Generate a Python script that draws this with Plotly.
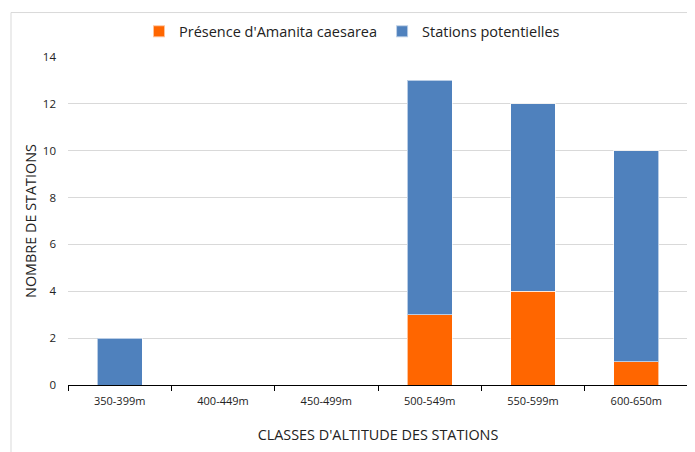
import plotly.graph_objects as go

categories = ["350-399m", "400-449m", "450-499m", "500-549m", "550-599m", "600-650m"]
presence = [0, 0, 0, 3, 4, 1]
potentielles = [2, 0, 0, 10, 8, 9]
y_ticks = [0, 2, 4, 6, 8, 10, 12, 14]

FONT = "Open Sans"
OFF = 8  # page body margin

fig = go.Figure()
fig.add_trace(go.Bar(
    x=categories, y=presence, name="Présence d'Amanita caesarea",
    marker=dict(color="#FF6600", line=dict(color="rgba(255,255,255,0.6)", width=1)),
))
fig.add_trace(go.Bar(
    x=categories, y=potentielles, name="Stations potentielles",
    marker=dict(color="#4F81BD", line=dict(color="rgba(255,255,255,0.6)", width=1)),
))

W, H = 687, 444
L, R, T, B = 60, 7, 45, 67
pw, ph = W - L - R, H - T - B

def px(x):
    return (x - OFF - L) / pw

def py(y):
    return (H - B - (y - OFF)) / ph

fig.update_layout(
    width=W, height=H,
    barmode="stack", bargap=0.565,
    plot_bgcolor="white", paper_bgcolor="white",
    margin=dict(l=L, r=R, t=T, b=B),
    font=dict(family=FONT, color="#222222", size=12),
    legend=dict(
        orientation="h", x=px(352), xanchor="center", y=py(27), yanchor="middle",
        font=dict(family=FONT, size=14.5, color="#222222"),
        traceorder="normal", itemwidth=30, itemsizing="constant",
        bgcolor="rgba(0,0,0,0)",
    ),
    xaxis=dict(
        showline=True, linecolor="black", linewidth=1,
        ticks="outside", tickson="boundaries", ticklen=5, tickcolor="black",
        tickfont=dict(family=FONT, size=11, color="#222222"),
        ticklabelstandoff=6,
        title=dict(text="CLASSES D'ALTITUDE DES STATIONS",
                   font=dict(family=FONT, size=14.4, color="#222222"), standoff=22),
        showgrid=False,
    ),
    yaxis=dict(
        range=[0, 14], tickvals=y_ticks, showgrid=True, gridcolor="#D9D9D9", gridwidth=1,
        zeroline=False, showline=False, ticks="",
        tickfont=dict(family=FONT, size=11.5, color="#222222"),
        ticklabelstandoff=11,
        title=dict(text="NOMBRE DE STATIONS",
                   font=dict(family=FONT, size=14.4, color="#222222"), standoff=2),
    ),
    shapes=[
        dict(type="line", xref="paper", yref="paper", x0=px(11), x1=px(710), y0=py(8), y1=py(8),
             line=dict(color="#D9D9D9", width=1)),
        dict(type="line", xref="paper", yref="paper", x0=px(11), x1=px(11), y0=py(8), y1=py(470),
             line=dict(color="#D9D9D9", width=1)),
    ],
)

fig.write_html("out.html")
